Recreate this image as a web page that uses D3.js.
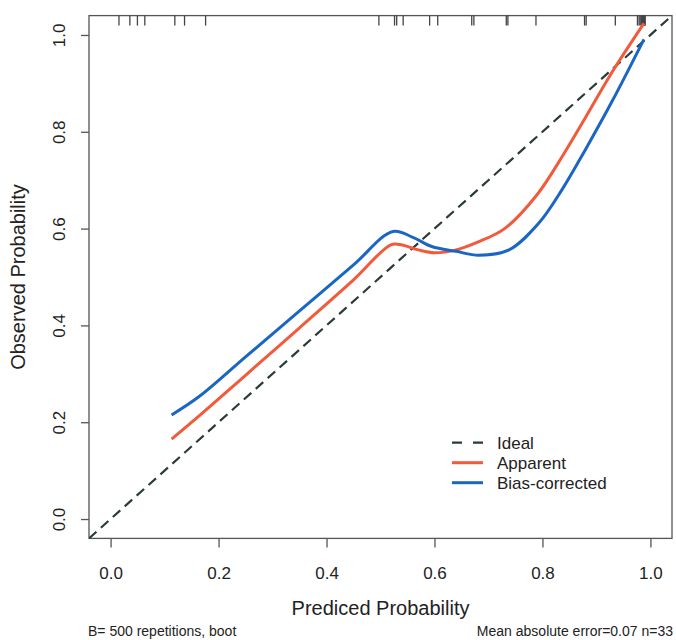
<!DOCTYPE html>
<html>
<head>
<meta charset="utf-8">
<script src="https://cdn.jsdelivr.net/npm/d3@7"></script>
<style>
  body { margin: 0; background: #fff; }
  text { font-family: "Liberation Sans", Arial, sans-serif; fill: #222; }
</style>
</head>
<body>
<script>
// chart values
const tickValues = [0, 0.2, 0.4, 0.6, 0.8, 1.0];
const tickLabels = ["0.0", "0.2", "0.4", "0.6", "0.8", "1.0"];

const apparentX = [0.113, 0.164, 0.25, 0.35, 0.45, 0.52, 0.54, 0.57, 0.60, 0.64, 0.68, 0.73, 0.79, 0.84, 0.88, 0.93, 0.988];
const apparentY = [0.165, 0.213, 0.297, 0.395, 0.494, 0.567, 0.566, 0.556, 0.550, 0.556, 0.572, 0.600, 0.670, 0.755, 0.830, 0.925, 1.024];

const biasX = [0.113, 0.164, 0.25, 0.35, 0.45, 0.523, 0.56, 0.595, 0.64, 0.682, 0.738, 0.793, 0.836, 0.879, 0.93, 0.988];
const biasY = [0.215, 0.253, 0.335, 0.430, 0.525, 0.594, 0.582, 0.563, 0.553, 0.545, 0.556, 0.611, 0.680, 0.762, 0.865, 0.991];

// predicted probabilities shown as the rug along the top (n=33)
const rugValues = [0.0155, 0.0357, 0.0497, 0.0634, 0.119, 0.137, 0.176,
  0.497, 0.526, 0.530, 0.542, 0.591, 0.606, 0.669, 0.673, 0.733, 0.736, 0.788,
  0.878, 0.881, 0.935, 0.976, 0.979, 0.981, 0.983, 0.984, 0.985, 0.986, 0.987,
  0.988, 0.989, 0.990, 0.990];

const legendLabels = ["Ideal", "Apparent", "Bias-corrected"];
const footLeft = "B= 500 repetitions, boot";
const footRight = "Mean absolute error=0.07 n=33";

// layout
const width = 676;
const height = 640;
const plotLeft = 89, plotRight = 672, plotTop = 15.6, plotBottom = 538.4;
const orange = "#f15a3b";
const blue = "#1a66c2";
const ideal = "#2b3b3b";
const boxColor = "#555";

const svg = d3.select("body").append("svg")
  .attr("width", width)
  .attr("height", height);

const xScale = d3.scaleLinear().domain([-0.04, 1.04]).range([plotLeft, plotRight]);
const yScale = d3.scaleLinear().domain([-0.04, 1.04]).range([plotBottom, plotTop]);

svg.append("clipPath").attr("id", "plotClip")
  .append("rect")
  .attr("x", plotLeft).attr("y", plotTop)
  .attr("width", plotRight - plotLeft).attr("height", plotBottom - plotTop);

// x axis
const xAxis = svg.append("g")
  .attr("transform", "translate(0," + plotBottom + ")")
  .call(d3.axisBottom(xScale).tickValues(tickValues)
    .tickFormat(function(d, i) { return tickLabels[i]; })
    .tickSize(9).tickPadding(20));
xAxis.select(".domain").remove();
xAxis.selectAll("line").attr("stroke", boxColor).attr("stroke-width", 1.3);
xAxis.selectAll("text").style("font-size", "17px").style("font-family", "Liberation Sans, Arial, sans-serif").attr("fill", "#222");

// y axis
const yAxis = svg.append("g")
  .attr("transform", "translate(" + plotLeft + ",0)")
  .call(d3.axisLeft(yScale).tickValues(tickValues)
    .tickFormat(function(d, i) { return tickLabels[i]; })
    .tickSize(8));
yAxis.select(".domain").remove();
yAxis.selectAll("line").attr("stroke", boxColor).attr("stroke-width", 1.3);
yAxis.selectAll("text")
  .style("font-size", "17px").style("font-family", "Liberation Sans, Arial, sans-serif")
  .attr("fill", "#222")
  .attr("x", null).attr("dy", null)
  .attr("text-anchor", "middle")
  .attr("transform", "translate(-24,0) rotate(-90)")
  .attr("y", 0);

// box
svg.append("rect")
  .attr("x", plotLeft).attr("y", plotTop)
  .attr("width", plotRight - plotLeft).attr("height", plotBottom - plotTop)
  .attr("fill", "none").attr("stroke", boxColor).attr("stroke-width", 1.3);

// rug
svg.selectAll(".rug")
  .data(rugValues)
  .enter()
  .append("line")
  .attr("class", "rug")
  .attr("x1", function(d) { return xScale(d); })
  .attr("x2", function(d) { return xScale(d); })
  .attr("y1", plotTop)
  .attr("y2", plotTop + 10)
  .attr("stroke", "#444")
  .attr("stroke-width", 1.3);

const plot = svg.append("g").attr("clip-path", "url(#plotClip)");

// ideal line
plot.append("line")
  .attr("x1", xScale(-0.04)).attr("y1", yScale(-0.04))
  .attr("x2", xScale(1.04)).attr("y2", yScale(1.04))
  .attr("stroke", ideal)
  .attr("stroke-width", 2.2)
  .attr("stroke-dasharray", "10,6");

const line = d3.line()
  .x(function(d) { return xScale(d[0]); })
  .y(function(d) { return yScale(d[1]); })
  .curve(d3.curveCatmullRom.alpha(0.5));

plot.append("path")
  .datum(d3.zip(apparentX, apparentY))
  .attr("d", line)
  .attr("fill", "none")
  .attr("stroke", orange)
  .attr("stroke-width", 3);

plot.append("path")
  .datum(d3.zip(biasX, biasY))
  .attr("d", line)
  .attr("fill", "none")
  .attr("stroke", blue)
  .attr("stroke-width", 3);

// legend
const legendColors = [ideal, orange, blue];
const legend = svg.selectAll(".legend")
  .data(legendLabels)
  .enter()
  .append("g")
  .attr("class", "legend")
  .attr("transform", function(d, i) { return "translate(452," + (442.7 + i * 20) + ")"; });

legend.append("line")
  .attr("x1", 0).attr("x2", 31)
  .attr("stroke", function(d, i) { return legendColors[i]; })
  .attr("stroke-width", function(d, i) { return i === 0 ? 2.2 : 3; })
  .attr("stroke-dasharray", function(d, i) { return i === 0 ? "10,11" : null; });

legend.append("text")
  .attr("x", 45)
  .attr("dy", "0.35em")
  .style("font-size", "17px")
  .text(function(d) { return d; });

// titles
svg.append("text")
  .attr("x", (plotLeft + plotRight) / 2)
  .attr("y", 615)
  .attr("text-anchor", "middle")
  .style("font-size", "20px")
  .text("Prediced Probability");

svg.append("text")
  .attr("transform", "translate(25," + ((plotTop + plotBottom) / 2) + ") rotate(-90)")
  .attr("text-anchor", "middle")
  .style("font-size", "20px")
  .text("Observed Probability");

svg.append("text")
  .attr("x", 88).attr("y", 636)
  .style("font-size", "14px")
  .text(footLeft);

svg.append("text")
  .attr("x", 673).attr("y", 636)
  .attr("text-anchor", "end")
  .style("font-size", "14px")
  .text(footRight);
</script>
</body>
</html>
